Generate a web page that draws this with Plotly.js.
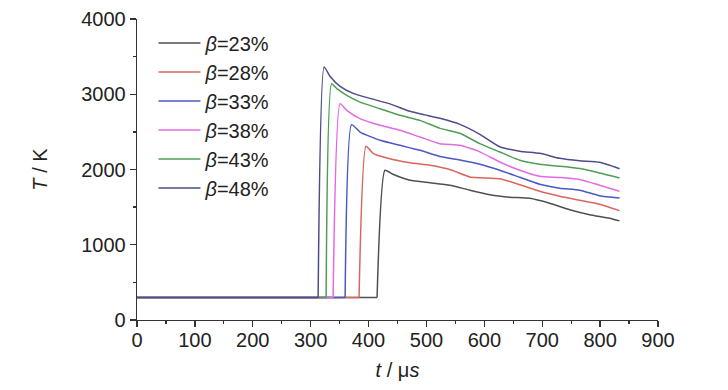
<!DOCTYPE html>
<html>
<head>
<meta charset="utf-8">
<script src="https://cdn.plot.ly/plotly-3.0.1.min.js"></script>
<style>html,body{margin:0;padding:0;background:#fff;}#chart{width:728px;height:390px;}</style>
</head>
<body>
<div id="chart"></div>
<script>
// Series names
var seriesNames = ["<i>β</i>=23%", "<i>β</i>=28%", "<i>β</i>=33%", "<i>β</i>=38%", "<i>β</i>=43%", "<i>β</i>=48%"];

// Time (µs) and temperature (K) for each series
// (first two points: flat 300 K baseline and the start of the rise)
var t23 = [0, 414.7, 428.4, 442.2, 471.6, 506.0, 540.5, 575.0, 609.5, 643.9, 678.4, 712.9, 747.4, 781.9, 816.4, 833.6];
var T23 = [300, 300, 1990, 1937, 1857, 1824, 1791, 1725, 1665, 1632, 1618, 1552, 1466, 1400, 1353, 1317];

var t28 = [0, 383.6, 395.7, 407.8, 433.6, 471.6, 506.0, 540.5, 575.0, 592.2, 626.7, 661.2, 695.7, 730.2, 764.7, 799.1, 833.6];
var T28 = [300, 300, 2308, 2215, 2149, 2089, 2056, 2000, 1901, 1890, 1877, 1798, 1711, 1645, 1592, 1539, 1453];

var t33 = [0, 359.5, 370.7, 385.3, 419.8, 454.3, 488.8, 523.3, 557.8, 592.2, 626.7, 661.2, 695.7, 730.2, 764.7, 799.1, 833.6];
var T33 = [300, 300, 2596, 2498, 2388, 2322, 2255, 2172, 2127, 2070, 1990, 1897, 1804, 1751, 1725, 1652, 1622];

var t38 = [0, 338.8, 350.9, 362.4, 385.3, 419.8, 454.3, 488.8, 523.3, 557.8, 592.2, 626.7, 661.2, 695.7, 730.2, 764.7, 799.1, 833.6];
var T38 = [300, 300, 2875, 2786, 2676, 2587, 2521, 2432, 2342, 2322, 2235, 2100, 1990, 1910, 1893, 1867, 1791, 1711];

var t43 = [0, 326.7, 336.2, 345.2, 362.4, 385.3, 419.8, 454.3, 488.8, 523.3, 557.8, 592.2, 626.7, 661.2, 695.7, 730.2, 764.7, 799.1, 833.6];
var T43 = [300, 300, 3140, 3074, 2985, 2896, 2808, 2720, 2653, 2547, 2481, 2344, 2233, 2123, 2070, 2043, 2012, 1954, 1888];

var t48 = [0, 312.9, 323.3, 333.6, 350.9, 373.3, 402.6, 437.1, 471.6, 497.4, 523.3, 557.8, 592.2, 626.7, 661.2, 695.7, 730.2, 764.7, 799.1, 833.6];
var T48 = [300, 300, 3363, 3237, 3104, 3011, 2945, 2872, 2773, 2726, 2680, 2600, 2468, 2302, 2242, 2215, 2149, 2116, 2096, 2010];

var xTicks = [0, 100, 200, 300, 400, 500, 600, 700, 800, 900];
var yTicks = [0, 1000, 2000, 3000, 4000];

var colors = ["#505050", "#d9665a", "#4a58c4", "#e46ae4", "#4f9e55", "#4d4d8c"];
var xs = [t23, t28, t33, t38, t43, t48];
var ys = [T23, T28, T33, T38, T43, T48];

var traces = [];
// flat baselines (drawn straight)
for (var i = 0; i < seriesNames.length; i++) {
  traces.push({
    x: xs[i].slice(0, 2), y: ys[i].slice(0, 2), type: "scatter", mode: "lines",
    showlegend: false, hoverinfo: "skip", legendgroup: "g" + i,
    line: {color: colors[i], width: 1.5}
  });
}
// pulses (smoothed)
for (var i = 0; i < seriesNames.length; i++) {
  traces.push({
    x: xs[i].slice(1), y: ys[i].slice(1), name: seriesNames[i], type: "scatter", mode: "lines",
    legendgroup: "g" + i,
    line: {color: colors[i], width: 1.5, shape: "spline", smoothing: 0.5}
  });
}

var fontFam = "'Liberation Sans', Arial, Helvetica, sans-serif";
var layout = {
  width: 728, height: 390,
  margin: {l: 136.5, r: 70, t: 18.5, b: 70},
  paper_bgcolor: "#fff", plot_bgcolor: "#fff",
  font: {family: fontFam, color: "#222", size: 20},
  showlegend: true,
  legend: {x: 0.0316, y: 0.985, xanchor: "left", yanchor: "top", bgcolor: "rgba(0,0,0,0)",
           font: {size: 20, family: fontFam, color: "#222"}, itemwidth: 42, tracegroupgap: 0, traceorder: "normal"},
  xaxis: {
    range: [0, 900], tickvals: xTicks, ticktext: xTicks.map(String),
    tickfont: {family: fontFam, size: 20, color: "#222"}, ticklabelstandoff: -4,
    showline: true, linecolor: "#333", linewidth: 1.3, ticks: "outside", ticklen: 6, tickcolor: "#333", tickwidth: 1.3,
    minor: {ticks: "outside", ticklen: 3, dtick: 50, tickcolor: "#333", tickwidth: 1.3, showgrid: false},
    showgrid: false, zeroline: false, mirror: false,
    title: {text: "<i>t</i> / μ<i>s</i>", font: {size: 20, family: fontFam, color: "#222"}, standoff: 12}
  },
  yaxis: {
    range: [0, 4000], tickvals: yTicks, ticktext: yTicks.map(String),
    tickfont: {family: fontFam, size: 20, color: "#222"},
    showline: true, linecolor: "#333", linewidth: 1.3, ticks: "outside", ticklen: 6, tickcolor: "#333", tickwidth: 1.3,
    minor: {ticks: "outside", ticklen: 3, dtick: 500, tickcolor: "#333", tickwidth: 1.3, showgrid: false},
    showgrid: false, zeroline: false, mirror: false,
    title: {text: "<i>T</i> / K", font: {size: 20, family: fontFam, color: "#222"}, standoff: 28}
  }
};

Plotly.newPlot("chart", traces, layout, {displayModeBar: false, staticPlot: true});
</script>
</body>
</html>
